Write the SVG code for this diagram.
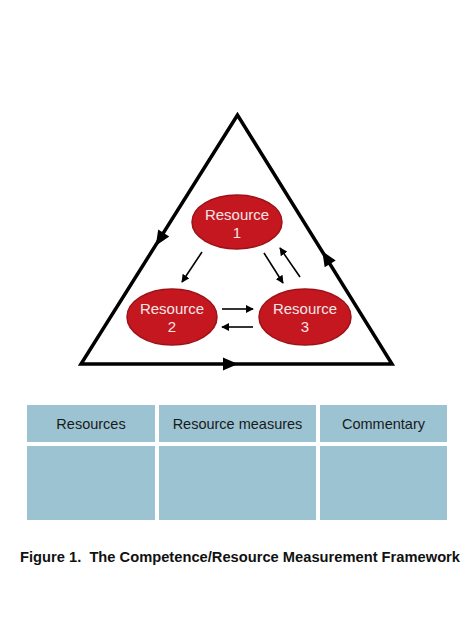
<svg xmlns="http://www.w3.org/2000/svg" width="474" height="631" viewBox="0 0 474 631">
<defs>
<path id="ah" d="M8,0 L-7,-6.5 L-7,6.5 Z" fill="#000"/>
<marker id="sm" viewBox="0 0 10 10" refX="9" refY="5" markerWidth="8" markerHeight="8" markerUnits="userSpaceOnUse" orient="auto">
<path d="M0,0 L10,5 L0,10 z" fill="#000"/>
</marker>
<style>
.node ellipse{fill:#c5171f;stroke:#9e1117;stroke-width:1.5}
.node text{font-family:"Liberation Sans",Arial,sans-serif;font-size:15px;fill:#f4e6e6;text-anchor:middle}
.edge{stroke:#000;stroke-width:1.6;fill:none;marker-end:url(#sm)}
.cell{fill:#9cc3d2}
.hdr{font-family:"Liberation Sans",Arial,sans-serif;font-size:14.5px;fill:#1a1a1a;text-anchor:middle}
.cap{font-family:"Liberation Sans",Arial,sans-serif;font-size:14.5px;font-weight:bold;fill:#111}
</style>
</defs>
<rect width="474" height="631" fill="#fff"/>
<g id="triangle">
<path d="M237.5,115 L81,364 L392,364 Z" fill="none" stroke="#000" stroke-width="3.5" stroke-linejoin="miter"/>
<use href="#ah" transform="translate(160,239) rotate(122.1)"/>
<use href="#ah" transform="translate(326.5,258) rotate(-121.8)"/>
<use href="#ah" transform="translate(230,364)"/>
</g>
<g id="connectors">
<line class="edge" x1="202" y1="252" x2="182" y2="282"/>
<line class="edge" x1="264" y1="253" x2="283" y2="283"/>
<line class="edge" x1="300" y1="277" x2="280" y2="248"/>
<line class="edge" x1="222" y1="309" x2="253" y2="309"/>
<line class="edge" x1="253" y1="327" x2="222" y2="327"/>
</g>
<g id="resource1" class="node">
<ellipse cx="237" cy="222" rx="45" ry="27"/>
<text x="237" y="220">Resource</text>
<text x="237" y="238">1</text>
</g>
<g id="resource2" class="node">
<ellipse cx="172" cy="317" rx="45" ry="28"/>
<text x="172" y="314">Resource</text>
<text x="172" y="332">2</text>
</g>
<g id="resource3" class="node">
<ellipse cx="305" cy="317" rx="46" ry="28"/>
<text x="305" y="314">Resource</text>
<text x="305" y="332">3</text>
</g>
<g id="table">
<rect class="cell" x="27" y="405" width="128" height="37"/>
<rect class="cell" x="159" y="405" width="157" height="37"/>
<rect class="cell" x="320" y="405" width="127" height="37"/>
<rect class="cell" x="27" y="446" width="128" height="74"/>
<rect class="cell" x="159" y="446" width="157" height="74"/>
<rect class="cell" x="320" y="446" width="127" height="74"/>
<text class="hdr" x="91" y="429">Resources</text>
<text class="hdr" x="237.5" y="429">Resource measures</text>
<text class="hdr" x="383.5" y="429">Commentary</text>
</g>
<text class="cap" x="20" y="562" xml:space="preserve" textLength="440" lengthAdjust="spacingAndGlyphs">Figure 1.  The Competence/Resource Measurement Framework</text>
</svg>
